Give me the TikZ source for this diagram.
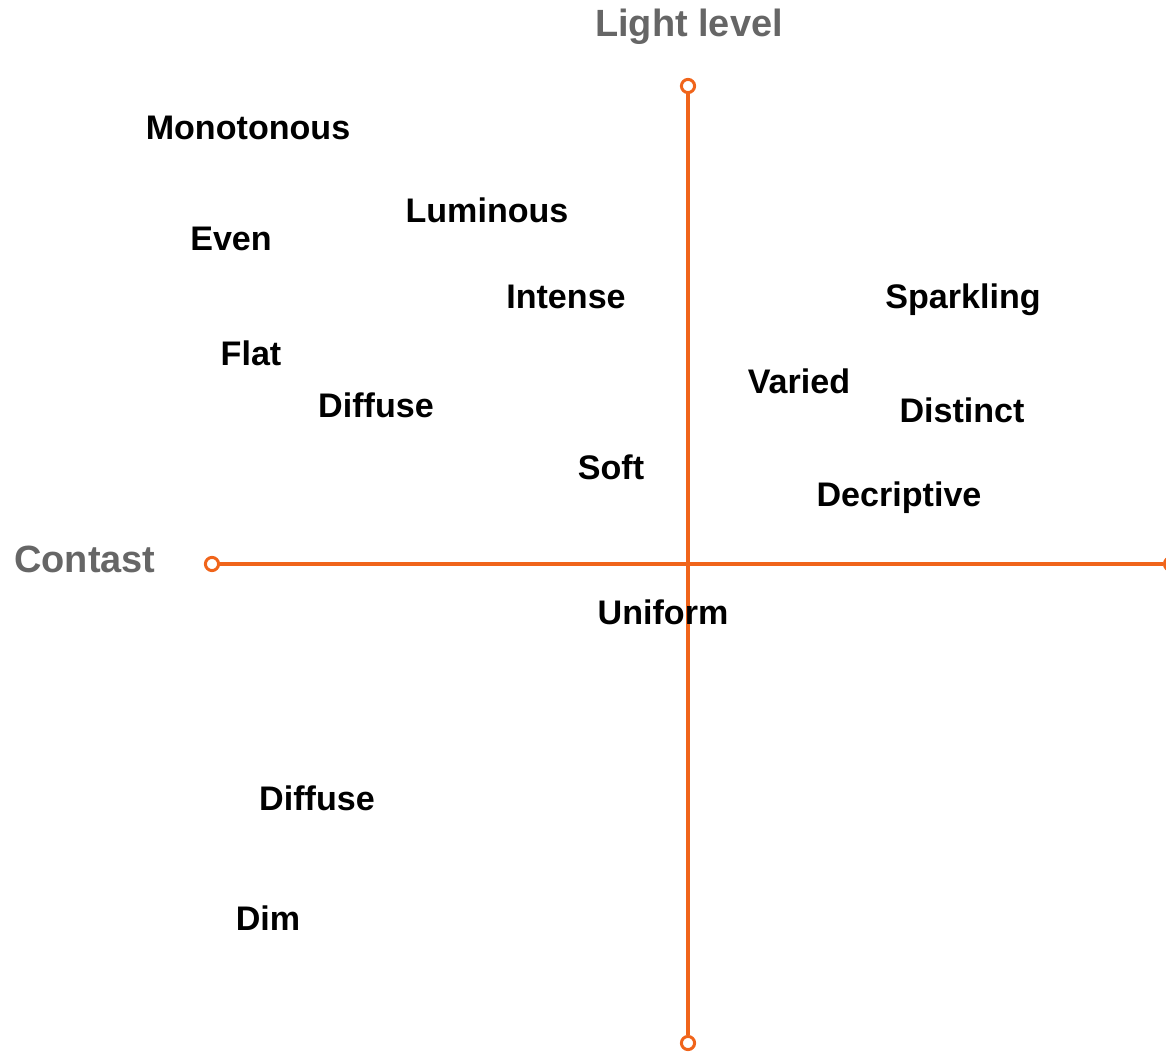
\documentclass[tikz,border=0pt]{standalone}
\usepackage{fontspec}
\setmainfont{Liberation Sans}
\definecolor{axisorange}{HTML}{F0641A}
\definecolor{labelgray}{HTML}{666666}
\tikzset{
  word/.style={font=\bfseries\fontsize{19.4}{22}\selectfont, anchor=base, inner sep=0pt},
  axislabel/.style={font=\bfseries\fontsize{21.6}{24}\selectfont, text=labelgray, anchor=base, inner sep=0pt},
  endpoint/.style={circle, draw=axisorange, fill=white, line width=1.7pt, inner sep=0pt, minimum size=7.5pt},
  axis/.style={draw=axisorange, line width=2pt}
}
\begin{document}
\begin{tikzpicture}[x=0.02cm, y=-0.02cm]
  \useasboundingbox (0,0) rectangle (1166,1054);

  % axes
  \node[endpoint] (top) at (688,86) {};
  \node[endpoint] (bottom) at (688,1043) {};
  \node[endpoint] (left) at (212,564) {};
  \node[endpoint] (right) at (1171,564) {};
  \draw[axis] (top) -- (bottom);
  \draw[axis] (left) -- (right);

  % axis labels
  \node[axislabel] (light) at (689,37) {Light level};
  \node[axislabel] (contrast) at (85,572) {Contast};

  % upper left
  \node[word] (monotonous) at (248,140) {Monotonous};
  \node[word] (luminous) at (487,223) {Luminous};
  \node[word] (even) at (231,251) {Even};
  \node[word] (intense) at (566,308) {Intense};
  \node[word] (flat) at (251,365) {Flat};
  \node[word] (diffuseA) at (376,417) {Diffuse};
  \node[word] (soft) at (611,479) {Soft};

  % upper right
  \node[word] (sparkling) at (963,308) {Sparkling};
  \node[word] (varied) at (799,393) {Varied};
  \node[word] (distinct) at (962,422) {Distinct};
  \node[word] (decriptive) at (899,506) {Decriptive};

  % lower half
  \node[word] (uniform) at (663,624) {Uniform};
  \node[word] (diffuseB) at (317,810) {Diffuse};
  \node[word] (dim) at (268,930) {Dim};
\end{tikzpicture}
\end{document}
